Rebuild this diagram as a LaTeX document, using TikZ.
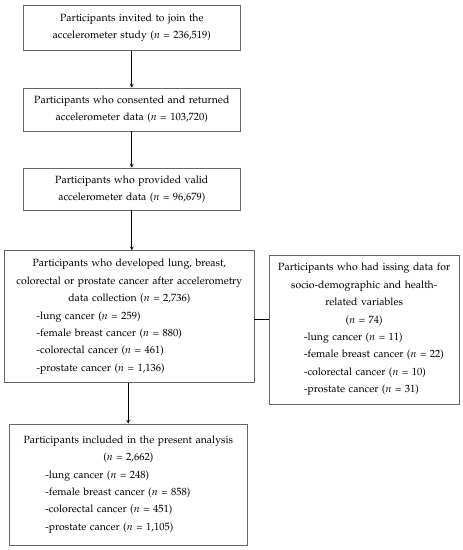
\documentclass[tikz,border=0pt]{standalone}
\usepackage[T1]{fontenc}
\usepackage{mathpazo}
\usepackage{amsmath}
\usetikzlibrary{
  arrows,
  calc,
  positioning}

\tikzset{
  box/.style={draw=black!60, line width=0.8pt, inner xsep=0pt, inner ysep=0pt,
    align=center, font=\fontsize{10.5}{17.4}\selectfont},
  link/.style={->, >=stealth, line width=0.7pt}
}
% one indented line of a list inside a box
\newcommand{\ca}[2]{\makebox[\hsize][l]{\hspace*{#1}#2}}

\begin{document}
\begin{tikzpicture}[x=1pt,y=1pt]
            \useasboundingbox (0,0) rectangle (463,-550);
            \node[box, text width=217.7pt, minimum height=45.7pt] (invited) at (131.8,-27.8)
                {Participants invited to join the\\ accelerometer study ($n$ = 236,519)};
            \node[box, text width=217.7pt, minimum height=43pt] (returned) at (131.8,-109.5)
                {Participants who consented and returned\\ accelerometer data ($n$ = 103,720)};
            \node[box, text width=217.7pt, minimum height=42pt] (valid) at (131.8,-189)
                {Participants who provided valid\\ accelerometer data ($n$ = 96,679)};
            \node[box, text width=249.3pt, minimum height=132pt] (developed) at (129.3,-316.7)
                {Participants who developed lung, breast,\\
                 colorectal or prostate cancer after accelerometry\\
                 data collection ($n$ = 2,736)\\
                 \ca{32pt}{-lung cancer ($n$ = 259)}\\
                 \ca{32pt}{-female breast cancer ($n$ = 880)}\\
                 \ca{32pt}{-colorectal cancer ($n$ = 461)}\\
                 \ca{32pt}{-prostate cancer ($n$ = 1,136)}};
            \node[box, text width=190.3pt, minimum height=149pt] (missing) at (364.2,-329.5)
                {Participants who had issing data for\\
                 socio-demographic and health-\\
                 related variables\\
                 ($n$ = 74)\\
                 \ca{35pt}{-lung cancer ($n$ = 11)}\\
                 \ca{35pt}{-female breast cancer ($n$ = 22)}\\
                 \ca{35pt}{-colorectal cancer ($n$ = 10)}\\
                 \ca{35pt}{-prostate cancer ($n$ = 31)}};
            \node[box, text width=238pt, minimum height=121pt] (included) at (128.3,-484.5)
                {Participants included in the present analysis\\
                 ($n$ = 2,662)\\
                 \ca{36pt}{-lung cancer ($n$ = 248)}\\
                 \ca{36pt}{-female breast cancer ($n$ = 858)}\\
                 \ca{36pt}{-colorectal cancer ($n$ = 451)}\\
                 \ca{36pt}{-prostate cancer ($n$ = 1,105)}};
            \draw[link] (invited) -- (returned);
            \draw[link] (returned) -- (valid);
            \draw[link] (valid.south) -- (valid.south |- developed.north);
            \draw[link] (included.north |- developed.south) -- (included.north);
            \draw[line width=0.7pt] ($(developed.east)+(0,-2.3)$) -- ($(developed.east -| missing.west)+(0,-2.3)$);
        \end{tikzpicture}
\end{document}
